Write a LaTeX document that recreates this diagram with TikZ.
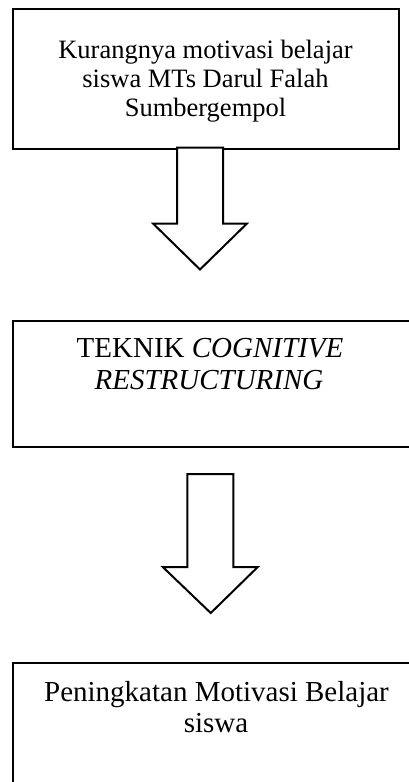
\documentclass[tikz,border=0pt]{standalone}
\usepackage{fontspec}
\setmainfont{Liberation Serif}
\begin{document}
\begin{tikzpicture}[x=1pt,y=-1pt]
\tikzset{
  frame/.style={draw=black, line width=2pt, inner sep=0pt, anchor=north west},
  blockarrow/.style={draw=black, line width=2pt, fill=white, line join=miter},
  txtA/.style={font=\fontsize{26.5}{30}\selectfont, anchor=base, inner sep=0pt},
  txtB/.style={font=\fontsize{29}{33}\selectfont, anchor=base, inner sep=0pt}
}
\useasboundingbox (0,0) rectangle (409,782);
\clip (0,0) rectangle (409,782);
\fill[white] (0,0) rectangle (409,782);

% boxes
\node[frame, minimum width=386pt, minimum height=140pt] (box1) at (12,8) {};
\node[frame, minimum width=396.5pt, minimum height=126pt] (box2) at (12,320) {};
\node[frame, minimum width=396.5pt, minimum height=150pt] (box3) at (12,662) {};

% texts
\node[txtA] (t1a) at (205.5,58) {Kurangnya motivasi belajar};
\node[txtA] (t1b) at (205.5,87) {siswa MTs Darul Falah};
\node[txtA] (t1c) at (205.5,116) {Sumbergempol};

\node[txtB] (t2a) at (210,357) {TEKNIK \textit{COGNITIVE}};
\node[txtB] (t2b) at (209,389) {\textit{RESTRUCTURING}};

\node[txtB] (t3a) at (216.5,701) {Peningkatan Motivasi Belajar};
\node[txtB] (t3b) at (216,732) {siswa};

% block arrows
\coordinate (a1) at ([xshift=-6pt,yshift=2.5pt]box1.south);
\coordinate (a2) at ([xshift=-1pt,yshift=-26pt]box2.south);

\draw[blockarrow] ([shift={(-23,0)}]a1) -- ([shift={(-23,76)}]a1) -- ([shift={(-47,76)}]a1)
  -- ([shift={(0,122)}]a1) -- ([shift={(47,76)}]a1) -- ([shift={(23,76)}]a1)
  -- ([shift={(23,0)}]a1) -- cycle;

\draw[blockarrow] ([shift={(-23,0)}]a2) -- ([shift={(-23,93)}]a2) -- ([shift={(-47.5,93)}]a2)
  -- ([shift={(0.5,139)}]a2) -- ([shift={(47.5,93)}]a2) -- ([shift={(23,93)}]a2)
  -- ([shift={(23,0)}]a2) -- cycle;
\end{tikzpicture}
\end{document}
